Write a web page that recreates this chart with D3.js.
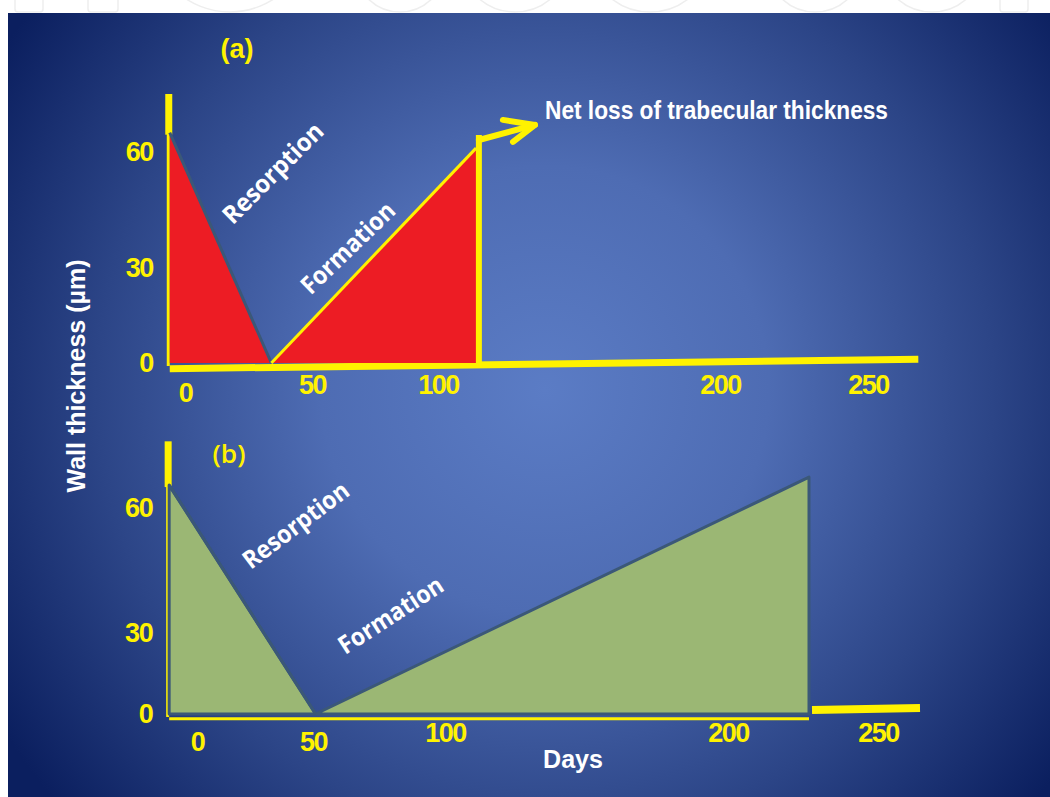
<!DOCTYPE html>
<html>
<head>
<meta charset="utf-8">
<script src="https://cdn.jsdelivr.net/npm/d3@7"></script>
<style>
  html, body { margin: 0; padding: 0; background: #fff; }
  svg { display: block; }
</style>
</head>
<body>
<div id="chart"></div>
<script>
// tick labels
var dayTicks = [0, 50, 100, 200, 250];
var umTicks = [0, 30, 60];

// panel (a): days vs wall thickness (um)
var resorptionA = [{day: -6, um: 65}, {day: 34, um: 0}];
var formationA = [{day: 34, um: 0}, {day: 113.5, um: 61}];
var reversalA = [{day: 114.5, um: 0}, {day: 114.5, um: 64.4}];
var arrowA = [{day: 114.5, um: 63.1}, {day: 134.4, um: 67}];
var arrowHeadA = [{day: 123, um: 68.3}, {day: 134.4, um: 67}, {day: 126.6, um: 62.6}];
var baseA = [{day: -6, um: -1.8}, {day: 267, um: 1.2}];
var axisTopA = 75;

// panel (b)
var resorptionB = [{day: -12, um: 65.5}, {day: 51, um: 0}];
var formationB = [{day: 51, um: 0}, {day: 227, um: 67.4}];
var baseUnderB = [{day: -12, um: -1.8}, {day: 227, um: -1.8}];
var baseTailB = [{day: 228, um: 1.5}, {day: 264, um: 2.2}];
var axisTopB = 76;

var W = 1050, H = 797;
var YELLOW = "#fff200", RED = "#ed1c24", GREEN = "#9bb774", EDGE = "#3b5878";

var svg = d3.select("#chart").append("svg")
    .attr("width", W).attr("height", H);

// background
var defs = svg.append("defs");
var grad = defs.append("radialGradient").attr("id", "bg")
    .attr("gradientUnits", "userSpaceOnUse")
    .attr("cx", 545).attr("cy", 390).attr("r", 640);
grad.append("stop").attr("offset", "0").attr("stop-color", "#5b7cc5");
grad.append("stop").attr("offset", "0.35").attr("stop-color", "#4e6cb3");
grad.append("stop").attr("offset", "0.7").attr("stop-color", "#2c4587");
grad.append("stop").attr("offset", "1").attr("stop-color", "#0b1f5f");

svg.append("rect").attr("width", W).attr("height", H).attr("fill", "#fff");
// faint watermark in the top strip
var wm = svg.append("g").attr("fill", "none").attr("stroke", "#eeeeee").attr("stroke-width", 1.5);
[[15, 28], [88, 30], [1000, 28]].forEach(function (r) {
    wm.append("rect").attr("x", r[0]).attr("y", -30).attr("width", r[1]).attr("height", 42).attr("rx", 3);
});
[[230, 80], [400, 45], [515, 55], [650, 62], [815, 48], [932, 52]].forEach(function (c) {
    wm.append("circle").attr("cx", c[0]).attr("cy", 12 - c[1]).attr("r", c[1]);
});
svg.append("rect").attr("x", 8).attr("y", 13).attr("width", W - 8).attr("height", H - 13)
    .attr("fill", "url(#bg)");

// scales (hand-drawn slide axes are not evenly spaced)
var xA = d3.scaleLinear().domain(dayTicks).range([185, 312, 438, 720, 868]);
var yA = d3.scaleLinear().domain(umTicks).range([363, 268, 152]);
var xB = d3.scaleLinear().domain(dayTicks).range([197, 313, 445, 728, 878]);
var yB = d3.scaleLinear().domain(umTicks).range([714, 633, 508]);

function lineFor(x, y) {
    return d3.line().x(function (d) { return x(d.day); }).y(function (d) { return y(d.um); });
}

function tickStyle(g, drops) {
    g.select(".domain").remove();
    g.selectAll(".tick text")
        .attr("fill", YELLOW)
        .style("font-family", "'Liberation Sans', Arial, sans-serif")
        .style("font-weight", "bold")
        .style("font-size", "27px")
        .style("letter-spacing", "-1.5px")
        .attr("transform", function (d) { return "translate(0," + (drops[d] || 0) + ")"; });
}

function drawPanel(o) {
    var g = svg.append("g");
    var line = lineFor(o.x, o.y);
    var x0 = o.x(o.resorption[0].day);

    // thin base line under shapes, thick part of axis
    g.append("path").attr("d", line(o.base)).attr("stroke", YELLOW)
        .attr("stroke-width", o.baseWidth).attr("fill", "none");

    // y axis: thick above the curve, thin alongside the fill
    g.append("line").attr("x1", x0 - 1).attr("x2", x0 - 1)
        .attr("y1", o.y(o.axisTop)).attr("y2", o.y(o.resorption[0].um) + 2)
        .attr("stroke", YELLOW).attr("stroke-width", 7);
    g.append("line").attr("x1", x0 - 1.5).attr("x2", x0 - 1.5)
        .attr("y1", o.y(o.resorption[0].um)).attr("y2", o.y(0) + 3)
        .attr("stroke", YELLOW).attr("stroke-width", 3);

    // resorption and formation fills
    [o.resorption, o.formation].forEach(function (s) {
        var pts = [{day: s[0].day, um: 0}].concat(s).concat([{day: s[s.length - 1].day, um: 0}]);
        g.append("path")
            .attr("d", line(pts) + "Z")
            .attr("fill", o.fill)
            .attr("stroke", o.edge).attr("stroke-width", o.edgeWidth)
            .attr("stroke-linejoin", "round");
    });
    g.append("path").attr("d", line(o.resorption)).attr("stroke", EDGE)
        .attr("stroke-width", 3).attr("fill", "none");
    if (o.formationStroke) {
        g.append("path").attr("d", line(o.formation)).attr("stroke", o.formationStroke)
            .attr("stroke-width", 3).attr("fill", "none");
    }

    if (o.baseTail) {
        g.append("path").attr("d", line(o.baseTail)).attr("stroke", YELLOW)
            .attr("stroke-width", 8).attr("fill", "none");
    }

    // axes labels
    g.append("g").attr("transform", "translate(0," + o.xRow + ")")
        .call(d3.axisBottom(o.x).tickValues(dayTicks).tickSize(0).tickPadding(0))
        .call(tickStyle, o.xDrops);
    g.append("g").attr("transform", "translate(" + (x0 - 1) + ",0)")
        .call(d3.axisLeft(o.y).tickValues(umTicks).tickSize(0).tickPadding(16))
        .call(tickStyle, {});

    return g;
}

var gA = drawPanel({
    x: xA, y: yA, resorption: resorptionA, formation: formationA,
    base: baseA, baseWidth: 7, axisTop: axisTopA,
    fill: RED, edge: "none", edgeWidth: 0, formationStroke: YELLOW,
    xRow: 375, xDrops: {0: 8}
});
var lA = lineFor(xA, yA);
gA.append("path").attr("d", lA(reversalA)).attr("stroke", YELLOW)
    .attr("stroke-width", 6).attr("fill", "none");
gA.append("path").attr("d", lA(arrowA)).attr("stroke", YELLOW)
    .attr("stroke-width", 6).attr("stroke-linecap", "round").attr("fill", "none");
gA.append("path").attr("d", lA(arrowHeadA)).attr("stroke", YELLOW)
    .attr("stroke-width", 6).attr("stroke-linecap", "round").attr("stroke-linejoin", "round")
    .attr("fill", "none");

drawPanel({
    x: xB, y: yB, resorption: resorptionB, formation: formationB,
    base: baseUnderB, baseWidth: 3, baseTail: baseTailB, axisTop: axisTopB,
    fill: GREEN, edge: EDGE, edgeWidth: 3, formationStroke: null,
    xRow: 723, xDrops: {0: 9, 50: 9}
});

// text
function label(t, x, y, opts) {
    var el = svg.append("text").text(t)
        .attr("x", x).attr("y", y)
        .attr("fill", opts.fill || "#fff")
        .attr("text-anchor", opts.anchor || "middle")
        .attr("dominant-baseline", opts.baseline || "central")
        .style("font-family", opts.family || "'Liberation Sans', Arial, sans-serif")
        .style("font-weight", opts.weight || "bold")
        .style("font-size", opts.size + "px");
    if (opts.len) el.attr("textLength", opts.len).attr("lengthAdjust", "spacingAndGlyphs");
    if (opts.rotate) el.attr("transform", "rotate(" + opts.rotate + "," + x + "," + y + ")");
    return el;
}

label("(a)", 237, 48, {fill: YELLOW, size: 28, len: 33});
label("(b)", 229, 453, {fill: YELLOW, size: 26, family: "'Open Sans', sans-serif", weight: 600, len: 33});
label("Net loss of trabecular thickness", 545, 119, {anchor: "start", baseline: "alphabetic", size: 26, len: 343});

var sideFont = "'Open Sans', sans-serif";
label("Resorption", 272, 172, {size: 25, family: sideFont, weight: 700, rotate: -45, len: 131});
label("Formation", 347, 247, {size: 25, family: sideFont, weight: 700, rotate: -44, len: 120});
label("Resorption", 295, 524, {size: 25, family: sideFont, weight: 700, rotate: -37, len: 126});
label("Formation", 390, 614, {size: 25, family: sideFont, weight: 700, rotate: -33, len: 120});

label("Wall thickness (\u00b5m)", 76, 376, {size: 26, rotate: -90, len: 233});
label("Days", 573, 759, {size: 26, len: 60});
</script>
</body>
</html>
